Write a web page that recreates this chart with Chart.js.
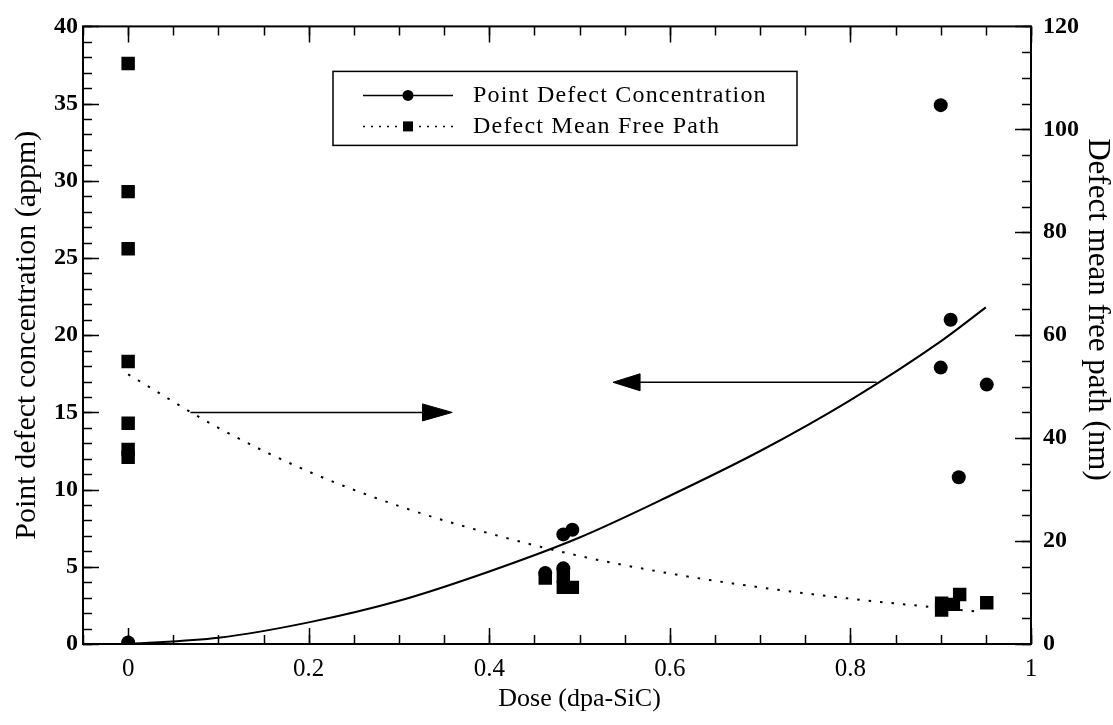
<!DOCTYPE html>
<html>
<head>
<meta charset="utf-8">
<title>Point defect concentration and mean free path vs dose</title>
<script src="https://cdn.jsdelivr.net/npm/chart.js@4.4.0/dist/chart.umd.min.js"></script>
<style>
    html, body { margin: 0; padding: 0; background: #fff; }
    #wrap { width: 1113px; height: 725px; }
</style>
</head>
<body>
<div id="wrap"><canvas id="doseChart" width="1113" height="725"></canvas></div>
<script>
// measured points, point defect concentration (appm, left axis)
const concDose = [0, 0.462, 0.482, 0.482, 0.492, 0.9, 0.9, 0.911, 0.92, 0.951];
const concValue = [0.1, 4.6, 4.9, 7.1, 7.4, 34.9, 17.9, 21.0, 10.8, 16.8];

// measured points, defect mean free path (nm, right axis)
const mfpDose = [0, 0, 0, 0, 0, 0, 0, 0.462, 0.482, 0.482, 0.492, 0.901, 0.901, 0.914, 0.921, 0.951];
const mfpValue = [112.8, 87.9, 76.8, 54.9, 42.9, 37.8, 36.3, 12.8, 13.2, 11.0, 11.0, 7.9, 6.6, 7.7, 9.6, 8.0];

// fitted curves
const concFitDose = [0, 0.1, 0.2, 0.3, 0.4, 0.5, 0.6, 0.7, 0.8, 0.9, 0.95];
const concFitValue = [0, 0.4, 1.4, 2.8, 4.7, 6.9, 9.6, 12.5, 15.8, 19.6, 21.8];
const mfpFitDose = [0, 0.1, 0.2, 0.3, 0.4, 0.5, 0.6, 0.7, 0.8, 0.9, 0.94];
const mfpFitValue = [52.4, 42.0, 33.5, 26.8, 21.5, 17.1, 13.7, 11.0, 8.8, 7.0, 6.3];

// the two arrows pointing at each curve's axis (left-axis units)
const arrowRightX = [0.069, 0.33];
const arrowRightY = [15, 15];
const headRightX = [0.326, 0.359, 0.326, 0.326];
const headRightY = [15.55, 15, 14.45, 15.55];
const arrowLeftX = [0.56, 0.829];
const arrowLeftY = [16.95, 16.95];
const headLeftX = [0.567, 0.537, 0.567, 0.567];
const headLeftY = [17.5, 16.95, 16.4, 17.5];

// tick labels
const doseTicks = [0, 0.2, 0.4, 0.6, 0.8, 1];
const concTicks = [0, 5, 10, 15, 20, 25, 30, 35, 40];
const mfpTicks = [0, 20, 40, 60, 80, 100, 120];

const pairs = (xs, ys) => xs.map((x, i) => ({ x: x, y: ys[i] }));

Chart.defaults.font.family = "'Liberation Serif', 'Times New Roman', serif";
Chart.defaults.color = '#000';

// inward tick marks on all four sides plus the box
const frameTicks = {
    id: 'frameTicks',
    beforeDatasetsDraw(chart) {
        const { ctx, chartArea: a, scales } = chart;
        ctx.save();
        ctx.strokeStyle = '#000';
        ctx.lineWidth = 1.5;
        const major = 16, minor = 9;

        function xMark(v, len) {
            const px = Math.round(scales.x.getPixelForValue(v)) + 0.5;
            ctx.beginPath();
            ctx.moveTo(px, a.bottom); ctx.lineTo(px, a.bottom - len);
            ctx.moveTo(px, a.top); ctx.lineTo(px, a.top + len);
            ctx.stroke();
        }
        function yMarks(scale, step, max, len, left) {
            for (let v = 0; v <= max + 0.001; v += step) {
                const py = Math.round(scale.getPixelForValue(v)) + 0.5;
                ctx.beginPath();
                if (left) { ctx.moveTo(a.left, py); ctx.lineTo(a.left + len, py); }
                else { ctx.moveTo(a.right, py); ctx.lineTo(a.right - len, py); }
                ctx.stroke();
            }
        }
        for (let k = -1; k <= 20; k++) xMark(k * 0.05, minor);
        doseTicks.forEach(v => xMark(v, major));
        yMarks(scales.yConc, 1, 40, minor, true);
        yMarks(scales.yConc, 5, 40, major, true);
        yMarks(scales.yMfp, 5, 120, minor, false);
        yMarks(scales.yMfp, 20, 120, major, false);

        ctx.lineWidth = 2;
        ctx.strokeRect(a.left, a.top, a.right - a.left, a.bottom - a.top);
        ctx.restore();
    }
};

// axis titles, placed from the scales
const axisTitles = {
    id: 'axisTitles',
    afterDraw(chart) {
        const { ctx, chartArea: a, scales } = chart;
        ctx.save();
        ctx.fillStyle = '#000';
        ctx.textAlign = 'center';
        ctx.textBaseline = 'middle';

        ctx.font = "26px 'Liberation Serif', serif";
        ctx.fillText('Dose (dpa-SiC)', scales.x.getPixelForValue(0.5), a.bottom + 55);

        ctx.font = "30px 'Liberation Serif', serif";
        ctx.save();
        ctx.translate(27, scales.yConc.getPixelForValue(20));
        ctx.rotate(-Math.PI / 2);
        ctx.fillText('Point defect concentration (appm)', 0, 0);
        ctx.restore();

        ctx.font = "31px 'Liberation Serif', serif";
        ctx.save();
        ctx.translate(a.right + 66, scales.yMfp.getPixelForValue(65));
        ctx.rotate(Math.PI / 2);
        ctx.fillText('Defect mean free path (nm)', 0, 0);
        ctx.restore();
        ctx.restore();
    }
};

// boxed legend inside the plot
const legendBox = {
    id: 'legendBox',
    afterDatasetsDraw(chart) {
        const { ctx, chartArea: a } = chart;
        const left = a.left + 250, top = a.top + 45, w = 464, h = 74;
        ctx.save();
        ctx.fillStyle = '#fff';
        ctx.fillRect(left, top, w, h);
        ctx.strokeStyle = '#000';
        ctx.lineWidth = 1.5;
        ctx.strokeRect(left, top, w, h);

        const rows = chart.data.datasets.filter(d => d.legendRow !== undefined)
            .sort((p, q) => p.legendRow - q.legendRow);
        rows.forEach((d, i) => {
            const y = top + 24 + i * 31;
            ctx.setLineDash(d.legendDash);
            ctx.lineWidth = 1.5;
            ctx.beginPath();
            ctx.moveTo(left + 30, y); ctx.lineTo(left + 120, y);
            ctx.stroke();
            ctx.setLineDash([]);
            ctx.fillStyle = '#000';
            if (d.pointStyle === 'rect') {
                ctx.fillRect(left + 70, y - 5, 10, 10);
            } else {
                ctx.beginPath();
                ctx.arc(left + 75, y, 5.5, 0, Math.PI * 2);
                ctx.fill();
            }
            ctx.font = "24px 'Liberation Serif', serif";
            ctx.letterSpacing = '1.2px';
            ctx.textBaseline = 'middle';
            ctx.textAlign = 'left';
            ctx.fillText(d.label, left + 140, y);
        });
        ctx.restore();
    }
};

const lineOnly = { showLine: true, pointRadius: 0, pointHoverRadius: 0, borderColor: '#000', fill: false };

new Chart(document.getElementById('doseChart'), {
    type: 'scatter',
    data: {
        datasets: [
            {
                label: 'Defect Mean Free Path',
                data: pairs(mfpDose, mfpValue),
                yAxisID: 'yMfp',
                pointStyle: 'rect',
                pointRadius: 9.5,
                backgroundColor: '#000',
                borderWidth: 0,
                order: 1,
                legendRow: 1,
                legendDash: [2, 6]
            },
            {
                label: 'Point Defect Concentration',
                data: pairs(concDose, concValue),
                yAxisID: 'yConc',
                pointStyle: 'circle',
                pointRadius: 7,
                backgroundColor: '#000',
                borderWidth: 0,
                order: 2,
                legendRow: 0,
                legendDash: []
            },
            Object.assign({ data: pairs(concFitDose, concFitValue), yAxisID: 'yConc', borderWidth: 2, cubicInterpolationMode: 'monotone', order: 3 }, lineOnly),
            Object.assign({ data: pairs(mfpFitDose, mfpFitValue), yAxisID: 'yMfp', borderWidth: 2, borderDash: [2.5, 9], cubicInterpolationMode: 'monotone', order: 4 }, lineOnly),
            Object.assign({ data: pairs(arrowRightX, arrowRightY), yAxisID: 'yConc', borderWidth: 1.5, order: 5 }, lineOnly),
            Object.assign({ data: pairs(headRightX, headRightY), yAxisID: 'yConc', borderWidth: 1, order: 5 }, lineOnly, { fill: 'shape', backgroundColor: '#000' }),
            Object.assign({ data: pairs(arrowLeftX, arrowLeftY), yAxisID: 'yConc', borderWidth: 1.5, order: 5 }, lineOnly),
            Object.assign({ data: pairs(headLeftX, headLeftY), yAxisID: 'yConc', borderWidth: 1, order: 5 }, lineOnly, { fill: 'shape', backgroundColor: '#000' })
        ]
    },
    options: {
        responsive: false,
        animation: false,
        devicePixelRatio: 1,
        layout: { padding: { top: 23, left: 0, right: 0, bottom: 0 } },
        plugins: {
            legend: { display: false },
            tooltip: { enabled: false }
        },
        scales: {
            x: {
                type: 'linear',
                min: -0.05,
                max: 1,
                afterBuildTicks: s => { s.ticks = doseTicks.map(v => ({ value: v })); },
                afterFit: s => { s.height = 81; },
                grid: { display: false, drawTicks: false },
                border: { display: false },
                ticks: { padding: 10, font: { size: 25 }, callback: v => String(v) }
            },
            yConc: {
                type: 'linear',
                position: 'left',
                min: 0,
                max: 40,
                afterBuildTicks: s => { s.ticks = concTicks.map(v => ({ value: v })); },
                afterFit: s => { s.width = 83; },
                grid: { display: false, drawTicks: false },
                border: { display: false },
                ticks: { padding: 5, font: { size: 24, weight: 'bold' } }
            },
            yMfp: {
                type: 'linear',
                position: 'right',
                min: 0,
                max: 120,
                afterBuildTicks: s => { s.ticks = mfpTicks.map(v => ({ value: v })); },
                afterFit: s => { s.width = 82; },
                grid: { display: false, drawTicks: false },
                border: { display: false },
                ticks: { padding: 12, font: { size: 24, weight: 'bold' } }
            }
        }
    },
    plugins: [frameTicks, legendBox, axisTitles]
});
</script>
</body>
</html>
